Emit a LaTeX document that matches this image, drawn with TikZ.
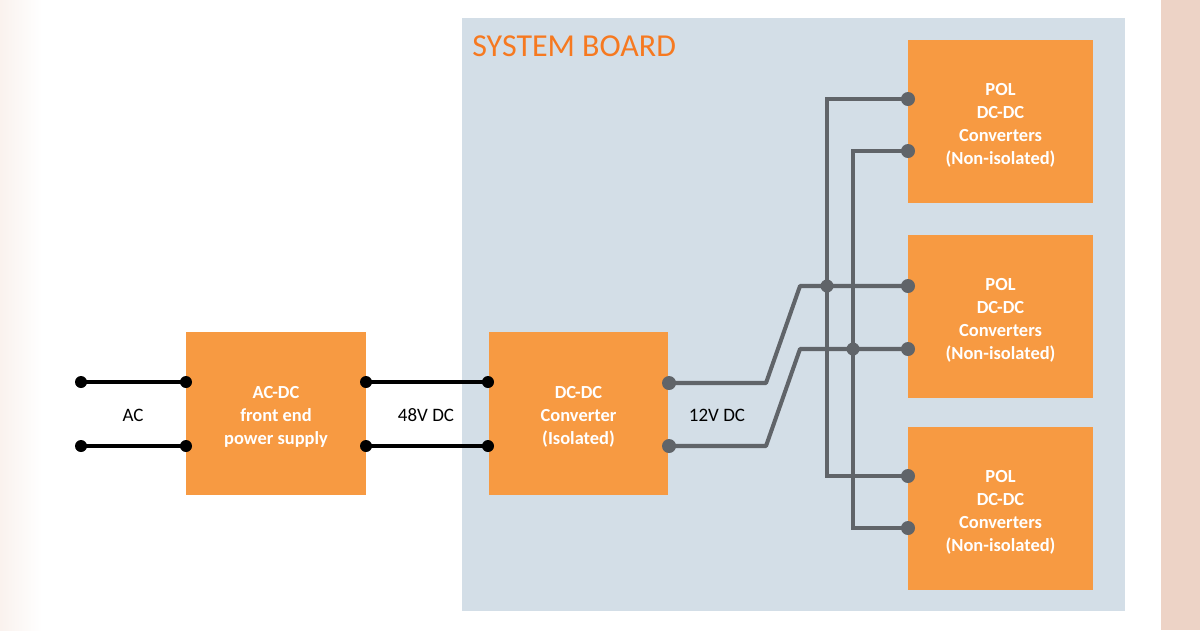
\documentclass[tikz,border=0pt]{standalone}
\usepackage{fontspec}
\setmainfont{Carlito}
\usepackage{xcolor}
\usetikzlibrary{calc}

\definecolor{boardblue}{RGB}{211,222,231}
\definecolor{boxorange}{RGB}{247,154,66}
\definecolor{titleorange}{RGB}{246,121,32}
\definecolor{wiregray}{RGB}{96,100,105}
\definecolor{edgepink}{RGB}{237,211,198}

\begin{document}
\begin{tikzpicture}[x=0.02cm, y=-0.02cm]

% Define styles
\tikzset{
    block/.style={fill=boxorange, minimum width=3.6cm, minimum height=3.26cm, inner sep=0pt,
        text=white, align=center, font=\fontsize{10.5}{13}\selectfont\bfseries,
        text height=37pt},
    polblock/.style={block, minimum width=3.7cm, text height=50pt},
    label/.style={font=\fontsize{10.8}{12}\selectfont},
    acwire/.style={line width=2.3pt, black},
    dcwire/.style={line width=2.3pt, wiregray},
    acpin/.style={fill=black},
    dcpin/.style={fill=wiregray}
}

% page and side strips
\useasboundingbox (0,0) rectangle (1200,630);
\fill[white] (0,0) rectangle (1200,630);
\shade[left color=edgepink!30, right color=white] (0,0) rectangle (42,630);
\fill[edgepink] (1161,0) rectangle (1200,630);

% system board
\fill[boardblue] (462,18) rectangle (1125,611);
\node[anchor=base west, inner sep=0pt, text=titleorange, font=\fontsize{18.2}{20}\selectfont] (title) at (472,56) {SYSTEM BOARD};

% blocks
\node[block] (acdc) at (276,413.5) {AC-DC\\front end\\power supply};
\node[block] (dcdc) at (578.5,413.5) {DC-DC\\Converter\\(Isolated)};
\node[polblock] (pol1) at (1000.5,121.5) {POL\\DC-DC\\Converters\\(Non-isolated)};
\node[polblock] (pol2) at (1000.5,316.5) {POL\\DC-DC\\Converters\\(Non-isolated)};
\node[polblock] (pol3) at (1000.5,508.5) {POL\\DC-DC\\Converters\\(Non-isolated)};

% labels
\node[label] (aclabel) at (133,415) {AC};
\node[label] (hvlabel) at (426,415) {48V DC};
\node[label] (lvlabel) at (717,415) {12V DC};

% pins of AC input
\coordinate (ac1) at (81,382);
\coordinate (ac2) at (81,446);
\coordinate (acdc-in1) at (186,382);
\coordinate (acdc-in2) at (186,446);
\coordinate (acdc-out1) at (366,382);
\coordinate (acdc-out2) at (366,446);
\coordinate (dcdc-in1) at (488,382);
\coordinate (dcdc-in2) at (488,446);

% pins of 12V bus
\coordinate (dcdc-out1) at (669,383);
\coordinate (dcdc-out2) at (669,446);
\coordinate (pol1-in1) at (908,99);
\coordinate (pol1-in2) at (908,151);
\coordinate (pol2-in1) at (908,286);
\coordinate (pol2-in2) at (908,349);
\coordinate (pol3-in1) at (908,476);
\coordinate (pol3-in2) at (908,528);

% bus rails
\coordinate (railA) at (827,0);
\coordinate (railB) at (853,0);

% AC and 48V wires
\draw[acwire] (ac1) -- (acdc-in1);
\draw[acwire] (ac2) -- (acdc-in2);
\draw[acwire] (acdc-out1) -- (dcdc-in1);
\draw[acwire] (acdc-out2) -- (dcdc-in2);

% 12V wires
\draw[dcwire, line join=round] (dcdc-out1) -- (766,383) -- (800,286) -- (pol2-in1);
\draw[dcwire, line join=round] (dcdc-out2) -- (766,446) -- (800,349) -- (pol2-in2);
\draw[dcwire] (pol1-in1) -- (railA |- pol1-in1) -- (railA |- pol3-in1) -- (pol3-in1);
\draw[dcwire] (pol1-in2) -- (railB |- pol1-in2) -- (railB |- pol3-in2) -- (pol3-in2);

% dots
\foreach \p in {ac1,ac2,acdc-in1,acdc-in2,acdc-out1,acdc-out2,dcdc-in1,dcdc-in2}
    \fill[acpin] (\p) circle[radius=6];
\foreach \p in {dcdc-out1,dcdc-out2,pol1-in1,pol1-in2,pol2-in1,pol2-in2,pol3-in1,pol3-in2}
    \fill[dcpin] (\p) circle[radius=7];
\fill[dcpin] (railA |- pol2-in1) circle[radius=6.5];
\fill[dcpin] (railB |- pol2-in2) circle[radius=6.5];

\end{tikzpicture}
\end{document}
